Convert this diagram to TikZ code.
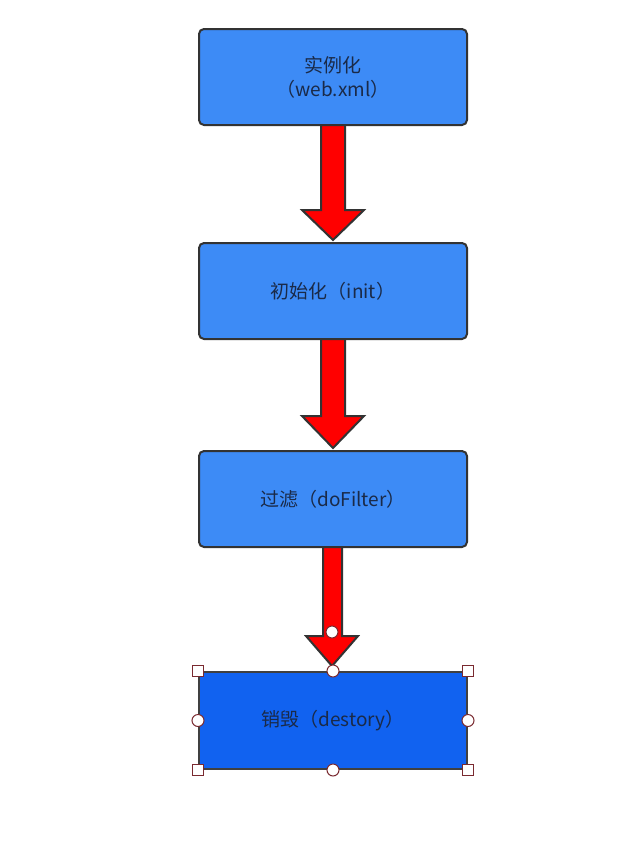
\documentclass[tikz,border=0pt]{standalone}
\usepackage{fontspec}
\setmainfont{Noto Sans CJK SC}
\begin{document}
\begin{tikzpicture}[x=1pt,y=-1pt,
 box/.style={draw=black!80,line width=2pt,rounded corners=5pt,fill=boxc,minimum width=268pt,minimum height=96pt,font=\fontsize{19}{24}\selectfont,text=txt,align=center,anchor=north west,inner sep=0pt},
 arr/.style={draw=black!80,line width=2pt,fill=red,line join=miter},
 hs/.style={draw=handle,fill=white,line width=1pt,minimum size=11pt,inner sep=0pt},
 hc/.style={hs,circle,minimum size=12pt}]
\definecolor{boxc}{HTML}{3D8BF6}
\definecolor{boxd}{HTML}{1162F0}
\definecolor{txt}{HTML}{1A2A48}
\definecolor{handle}{HTML}{7A2A30}
\useasboundingbox (0,0) rectangle (640,846);
\fill[white] (0,0) rectangle (640,846);
% arrows
\draw[arr] (321,123) -- (345,123) -- (345,210) -- (364,210) -- (333,240) -- (302,210) -- (321,210) -- cycle;
\draw[arr] (321,336) -- (345,336) -- (345,416) -- (364,416) -- (333,448) -- (302,416) -- (321,416) -- cycle;
\draw[arr] (323,544) -- (342,544) -- (342,636) -- (358,636) -- (332,666) -- (306,636) -- (323,636) -- cycle;
\node[box] (a) at (198,28) {实例化\\（web.xml）};
\node[box] (b) at (198,242) {初始化（init）};
\node[box] (c) at (198,450) {过滤（doFilter）};
\node[box,rounded corners=0pt,fill=boxd,draw=black!75,minimum height=97pt] (d) at (198,671) {销毁（destory）};
% selection handles
\node[hc] (h0) at (332,632) {};
\foreach \p/\n in {d.north west/h1,d.north east/h2,d.south west/h3,d.south east/h4} \node[hs] (\n) at (\p) {};
\foreach \p/\n in {d.north/h5,d.south/h6,d.west/h7,d.east/h8} \node[hc] (\n) at (\p) {};
\end{tikzpicture}
\end{document}
